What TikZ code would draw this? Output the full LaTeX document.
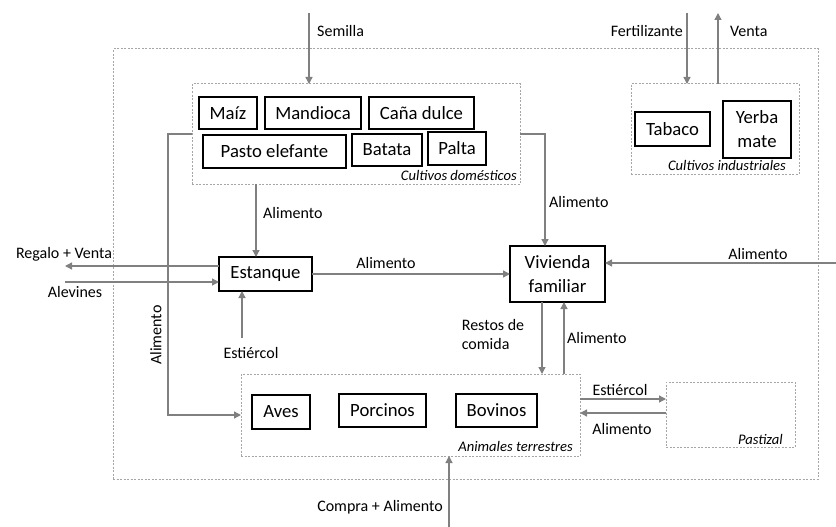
\documentclass[tikz,border=0pt]{standalone}
\usepackage{fontspec}
\setmainfont{Carlito}
\usetikzlibrary{arrows.meta}

\begin{document}
\begin{tikzpicture}[x=1pt,y=-1pt,
		box/.style={draw=black, line width=1.2pt, inner sep=0pt, outer sep=0pt,
			align=center, font=\fontsize{18.7}{24}\selectfont},
		group/.style={draw=gray!70, dash pattern=on 2pt off 1.5pt, line width=1pt,
			inner sep=0pt, outer sep=0pt},
		flow/.style={draw=gray, line width=1.3pt, -{Triangle[length=7pt,width=7pt]}},
		lbl/.style={inner sep=0pt, font=\fontsize{16}{19}\selectfont},
		tag/.style={inner sep=0pt, anchor=base east, font=\fontsize{14.6}{16}\selectfont\itshape}]
	\useasboundingbox (0,0) rectangle (836,527);

	% grupos
	\node[group, minimum width=705, minimum height=430] (finca) at (465.5,264) {};
	\node[group, minimum width=328, minimum height=100] (dom) at (356,134) {};
	\node[group, minimum width=168, minimum height=90] (ind) at (715,129) {};
	\node[group, minimum width=339, minimum height=82] (anim) at (410.5,415) {};
	\node[group, minimum width=129, minimum height=65] (pas) at (730.5,414.5) {};
	\node[tag] (domtag) at (517,180) {Cultivos domésticos};
	\node[tag] (indtag) at (786,170) {Cultivos industriales};
	\node[tag] (animtag) at (573,451) {Animales terrestres};
	\node[tag] (pastag) at (783,444) {Pastizal};

	% cultivos
	\node[box, minimum width=58, minimum height=32] (maiz) at (228,113) {Maíz};
	\node[box, minimum width=96, minimum height=32] (mandioca) at (313,113) {Mandioca};
	\node[box, minimum width=105, minimum height=32] (cana) at (421.5,113) {Caña dulce};
	\node[box, minimum width=143, minimum height=33] (pasto) at (274.5,151.5) {Pasto elefante};
	\node[box, minimum width=70, minimum height=32] (batata) at (387,150) {Batata};
	\node[box, minimum width=58, minimum height=33] (palta) at (457,148.5) {Palta};
	\node[box, minimum width=75, minimum height=34] (tabaco) at (672.5,129) {Tabaco};
	\node[box, minimum width=68, minimum height=57] (yerba) at (757,129.5) {Yerba\\mate};

	% centro
	\node[box, minimum width=93, minimum height=34] (est) at (265.5,274) {Estanque};
	\node[box, minimum width=95, minimum height=56] (viv) at (557.5,274) {Vivienda\\familiar};

	% animales
	\node[box, minimum width=58, minimum height=34] (aves) at (281,412) {Aves};
	\node[box, minimum width=87, minimum height=33] (porcinos) at (382.5,410.5) {Porcinos};
	\node[box, minimum width=81, minimum height=33] (bovinos) at (496.5,410.5) {Bovinos};

	% entradas y salidas
	\coordinate (sem) at (309,13);
	\coordinate (fer) at (687,13);
	\coordinate (ven) at (718,13);
	\coordinate (reg) at (65,266);
	\coordinate (alev) at (65,282);
	\coordinate (estc) at (242,338);
	\coordinate (ext) at (836,263);
	\coordinate (comp) at (449,527);

	\draw[flow] (sem) -- (sem |- dom.north);
	\node[lbl, anchor=west] (semlbl) at (317,31) {Semilla};
	\draw[flow] (fer) -- (fer |- ind.north);
	\node[lbl, anchor=east] (ferlbl) at (683,31) {Fertilizante};
	\draw[flow] (ven |- ind.north) -- (ven);
	\node[lbl, anchor=west] (venlbl) at (730,31) {Venta};

	\draw[flow] ([xshift=-9.5pt]est.north |- dom.south) -- ([xshift=-9.5pt]est.north);
	\node[lbl, anchor=west] (a1) at (263,213) {Alimento};
	\draw[flow] (dom.west) -- +(-24,0) |- (anim.west);
	\node[lbl, rotate=90] (a2) at (156,335) {Alimento};
	\draw[flow] (dom.east) -| ([xshift=-12.5pt]viv.north);
	\node[lbl, anchor=west] (a3) at (549,202) {Alimento};

	\draw[flow] ([yshift=8pt]est.west) -- (reg);
	\node[lbl] (reglbl) at (64,254) {Regalo + Venta};
	\draw[flow] (alev) -- ([yshift=-8pt]est.west);
	\node[lbl] (alevlbl) at (75,292) {Alevines};
	\draw[flow] (estc) -- (estc |- est.south);
	\node[lbl] (estclbl) at (251,353) {Estiércol};

	\draw[flow] (est) -- (viv);
	\node[lbl] (a4) at (386,263) {Alimento};
	\draw[flow] (ext) -- (ext -| viv.east);
	\node[lbl] (a5) at (758,254) {Alimento};

	\draw[flow] ([xshift=-15.5pt]viv.south) -- ([xshift=-15.5pt]viv.south |- anim.north);
	\node[lbl, align=left] (restos) at (493,335) {Restos de\\comida};
	\draw[flow] ([xshift=6.5pt]viv.south |- anim.north) -- ([xshift=6.5pt]viv.south);
	\node[lbl, anchor=west] (a6) at (567,338) {Alimento};

	\draw[flow] ([yshift=16pt]anim.east) -- ([yshift=16pt]anim.east -| pas.west);
	\node[lbl] (estc2) at (620,390) {Estiércol};
	\draw[flow] ([yshift=1.5pt]pas.west) -- ([yshift=1.5pt]pas.west -| anim.east);
	\node[lbl] (a7) at (622,429) {Alimento};

	\draw[flow] (comp) -- (comp |- anim.south);
	\node[lbl, anchor=east] (complbl) at (443,507) {Compra + Alimento};
\end{tikzpicture}
\end{document}
